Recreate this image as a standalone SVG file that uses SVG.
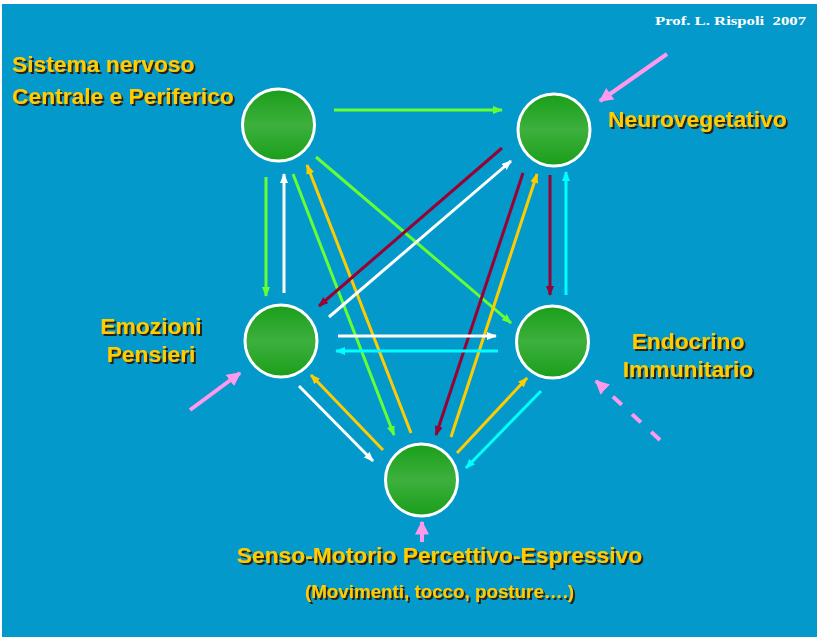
<svg xmlns="http://www.w3.org/2000/svg" width="817" height="637" viewBox="0 0 817 637">
<style>
.lbl{font-family:"Liberation Sans",Arial,sans-serif;font-weight:bold;font-size:22.8px;fill:#FFCC00;filter:url(#sh)}
.node{stroke:#fff;stroke-width:3;fill:url(#g)}
.c{fill:none;stroke-width:3}
.gr{stroke:#66FF33}.wh{stroke:#fff}.ye{stroke:#FFCC00}.rd{stroke:#990033}.cy{stroke:#00FFFF}
.pk{fill:none;stroke:#FF99EE;stroke-width:4;marker-end:url(#mp)}
</style>
<defs>
<linearGradient id="g" x1="0" y1="0" x2="0" y2="1">
<stop offset="0" stop-color="#1A9E1A"/><stop offset="0.5" stop-color="#3DB03D"/><stop offset="1" stop-color="#1A9E1A"/>
</linearGradient>
<filter id="sh" x="-5%" y="-20%" width="115%" height="150%">
<feDropShadow dx="2" dy="2" stdDeviation="0.3" flood-color="#2a2418" flood-opacity="1"/>
</filter>
<marker id="mg" viewBox="0 0 10 8" refX="9" refY="4" markerWidth="10" markerHeight="8" markerUnits="userSpaceOnUse" orient="auto"><path d="M0,0L10,4L0,8z" fill="#66FF33"/></marker>
<marker id="mw" viewBox="0 0 10 8" refX="9" refY="4" markerWidth="10" markerHeight="8" markerUnits="userSpaceOnUse" orient="auto"><path d="M0,0L10,4L0,8z" fill="#fff"/></marker>
<marker id="my" viewBox="0 0 10 8" refX="9" refY="4" markerWidth="10" markerHeight="8" markerUnits="userSpaceOnUse" orient="auto"><path d="M0,0L10,4L0,8z" fill="#FFCC00"/></marker>
<marker id="mr" viewBox="0 0 10 8" refX="9" refY="4" markerWidth="10" markerHeight="8" markerUnits="userSpaceOnUse" orient="auto"><path d="M0,0L10,4L0,8z" fill="#990033"/></marker>
<marker id="mc" viewBox="0 0 10 8" refX="9" refY="4" markerWidth="10" markerHeight="8" markerUnits="userSpaceOnUse" orient="auto"><path d="M0,0L10,4L0,8z" fill="#00FFFF"/></marker>
<marker id="mp" viewBox="0 0 10 10" refX="9" refY="5" markerWidth="14" markerHeight="14" markerUnits="userSpaceOnUse" orient="auto"><path d="M0,0L10,5L0,10z" fill="#FF99EE"/></marker>
</defs>
<rect x="0" y="0" width="817" height="637" fill="#fff"/>
<rect x="2" y="4" width="815" height="633" fill="#0399CB"/>
<text x="806" y="25" text-anchor="end" font-family="Liberation Serif,serif" font-weight="bold" font-size="13" fill="#fff" textLength="151" lengthAdjust="spacingAndGlyphs" style="white-space:pre">Prof. L. Rispoli  2007</text>

<g id="connectors">
<line class="c gr" x1="334" y1="110" x2="502" y2="110" marker-end="url(#mg)"/>
<line class="c gr" x1="266" y1="177" x2="266" y2="296" marker-end="url(#mg)"/>
<line class="c wh" x1="284" y1="293" x2="284" y2="174" marker-end="url(#mw)"/>
<line class="c gr" x1="293" y1="174" x2="394" y2="435" marker-end="url(#mg)"/>
<line class="c ye" x1="411" y1="433" x2="307" y2="165" marker-end="url(#my)"/>
<line class="c gr" x1="316" y1="157" x2="511" y2="323" marker-end="url(#mg)"/>
<line class="c rd" x1="502" y1="148" x2="319" y2="306" marker-end="url(#mr)"/>
<line class="c wh" x1="329" y1="317" x2="511" y2="161" marker-end="url(#mw)"/>
<line class="c rd" x1="523" y1="173" x2="436" y2="435" marker-end="url(#mr)"/>
<line class="c ye" x1="451" y1="437" x2="537" y2="174" marker-end="url(#my)"/>
<line class="c rd" x1="550" y1="175" x2="550" y2="295" marker-end="url(#mr)"/>
<line class="c cy" x1="566" y1="295" x2="566" y2="172" marker-end="url(#mc)"/>
<line class="c wh" x1="338" y1="336" x2="496" y2="336" marker-end="url(#mw)"/>
<line class="c cy" x1="498" y1="351" x2="336" y2="351" marker-end="url(#mc)"/>
<line class="c wh" x1="299" y1="386" x2="373" y2="461" marker-end="url(#mw)"/>
<line class="c ye" x1="383" y1="450" x2="311" y2="375" marker-end="url(#my)"/>
<line class="c ye" x1="457" y1="453" x2="527" y2="378" marker-end="url(#my)"/>
<line class="c cy" x1="541" y1="391" x2="466" y2="468" marker-end="url(#mc)"/>
<line class="pk" x1="667" y1="54" x2="600" y2="101"/>
<line class="pk" x1="190" y1="410" x2="240" y2="373"/>
<line class="pk" x1="660" y1="440" x2="596" y2="381" stroke-dasharray="12,14"/>
<line class="pk" x1="422" y1="542" x2="422" y2="522"/>
</g>

<g id="n-snc">
<circle class="node" cx="278.5" cy="125" r="36"/>
<text class="lbl" x="12" y="72">Sistema nervoso</text>
<text class="lbl" x="12" y="104">Centrale e Periferico</text>
</g>
<g id="n-neuro">
<circle class="node" cx="554" cy="130" r="36"/>
<text class="lbl" x="608" y="127">Neurovegetativo</text>
</g>
<g id="n-emo">
<circle class="node" cx="281" cy="341" r="36"/>
<text class="lbl" x="151" y="334" text-anchor="middle">Emozioni</text>
<text class="lbl" x="151" y="362" text-anchor="middle">Pensieri</text>
</g>
<g id="n-endo">
<circle class="node" cx="552.5" cy="342" r="36"/>
<text class="lbl" x="688" y="349" text-anchor="middle">Endocrino</text>
<text class="lbl" x="688" y="377" text-anchor="middle">Immunitario</text>
</g>
<g id="n-senso">
<circle class="node" cx="421.5" cy="480" r="36"/>
<text class="lbl" x="439.5" y="563" text-anchor="middle">Senso-Motorio Percettivo-Espressivo</text>
<text class="lbl" x="439.5" y="598" text-anchor="middle" style="font-size:18.8px">(Movimenti, tocco, posture….)</text>
</g>
</svg>
